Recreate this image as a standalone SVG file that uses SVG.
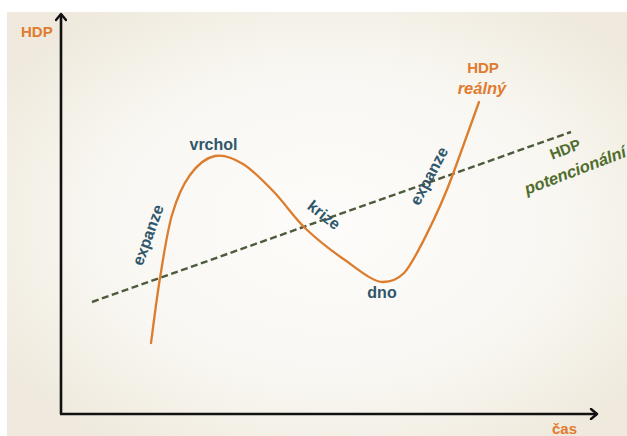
<svg xmlns="http://www.w3.org/2000/svg" width="627" height="436" viewBox="0 0 627 436">
  <defs>
    <radialGradient id="bg" cx="0.52" cy="0.5" r="0.62">
      <stop offset="0" stop-color="#fdfcfa"/>
      <stop offset="0.6" stop-color="#f9f7f2"/>
      <stop offset="1" stop-color="#efeadd"/>
    </radialGradient>
    <marker id="arrow" viewBox="-8 -6 10 12" markerWidth="10" markerHeight="12" refX="0" refY="0" orient="auto" markerUnits="userSpaceOnUse">
      <path d="M-6,-5 L0,0 L-6,5" fill="none" stroke="#111" stroke-width="2.4" stroke-linecap="round" stroke-linejoin="round"/>
    </marker>
  </defs>
  <style>
    text { font-family: "Liberation Sans", Arial, sans-serif; font-weight: bold; }
    .orange { fill: #e07b30; }
    .teal { fill: #2f566b; font-size: 16px; }
    .green { fill: #4f6d2c; }
    .axis { stroke: #111; stroke-width: 2.6; fill: none; }
    .curve { stroke: #dc7d2e; stroke-width: 2.3; fill: none; stroke-linecap: round; }
    .dash { stroke: #4d5a3c; stroke-width: 2.4; fill: none; stroke-dasharray: 7 3.5; }
  </style>
  <rect x="0" y="0" width="627" height="436" fill="#ffffff"/>
  <rect x="7" y="12" width="620" height="424" fill="url(#bg)"/>

  <g id="connectors">
    <line class="axis" x1="61" y1="414" x2="61" y2="14" marker-end="url(#arrow)"/>
    <line class="axis" x1="60" y1="414" x2="597" y2="414" marker-end="url(#arrow)"/>
    <line id="hdp-potencialni-line" class="dash" x1="92" y1="302" x2="571" y2="132"/>
    <path id="hdp-realny-curve" class="curve" d="M151,343 C152.5,332.2 156.5,299.3 160,278 C163.5,256.7 167,232.2 172,215 C177,197.8 182.8,184.8 190,175 C197.2,165.2 205.8,157.7 215,156 C223.8,154.2 233.2,158 243,164 C252.8,170 263.7,181.3 274,192 C284.3,202.7 293.7,217 305,228 C316.3,239 329.5,249.2 342,258 C355.2,267 372,282 383,282 C392,282 398,279 404,273 C412,265 438,215 453,174 C462.2,148.8 474.7,114 479,102"/>
  </g>

  <g id="axis-y-label">
    <text class="orange" x="21" y="37" font-size="15">HDP</text>
  </g>
  <g id="axis-x-label">
    <text class="orange" x="564.5" y="434" font-size="15" text-anchor="middle">čas</text>
  </g>
  <g id="label-vrchol">
    <text class="teal" x="213.5" y="150" text-anchor="middle">vrchol</text>
  </g>
  <g id="label-expanze-1">
    <text class="teal" text-anchor="middle" dominant-baseline="central" transform="translate(148,235) rotate(-70)">expanze</text>
  </g>
  <g id="label-krize">
    <text class="teal" text-anchor="middle" dominant-baseline="central" transform="translate(324,215) rotate(38)">krize</text>
  </g>
  <g id="label-dno">
    <text class="teal" x="382" y="298" text-anchor="middle">dno</text>
  </g>
  <g id="label-expanze-2">
    <text class="teal" text-anchor="middle" dominant-baseline="central" transform="translate(429,176) rotate(-62)">expanze</text>
  </g>
  <g id="label-hdp-realny">
    <text class="orange" x="483" y="73" font-size="15" text-anchor="middle">HDP</text>
    <text class="orange" x="482" y="94" font-size="16.5" font-style="italic" text-anchor="middle">reálný</text>
  </g>
  <g id="label-hdp-potencionalni">
    <text class="green" font-size="15" text-anchor="middle" dominant-baseline="central" transform="translate(565,149) rotate(-21)">HDP</text>
    <text class="green" font-size="16.5" font-style="italic" text-anchor="middle" dominant-baseline="central" transform="translate(575,170) rotate(-21)">potencionální</text>
  </g>
</svg>
